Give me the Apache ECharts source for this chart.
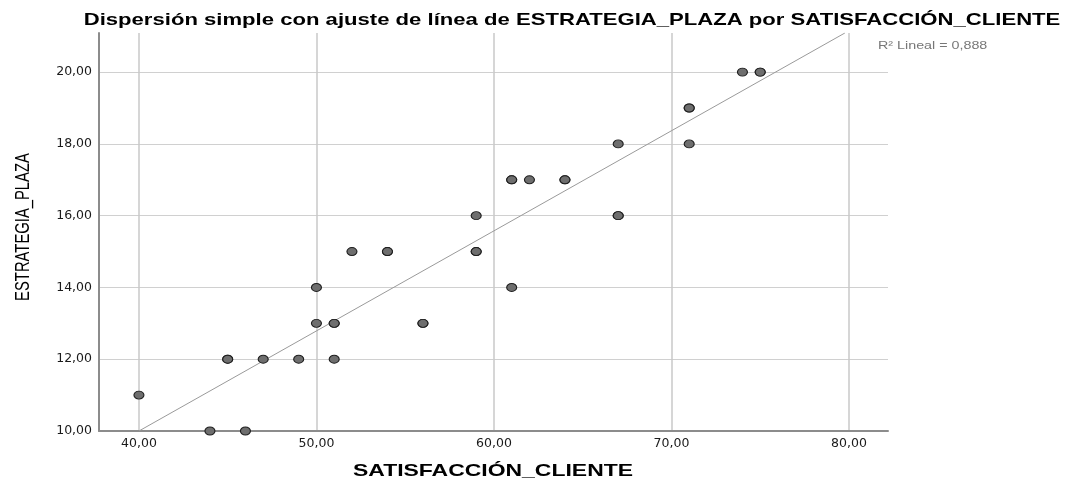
<!DOCTYPE html>
<html>
<head>
<meta charset="utf-8">
<script src="https://cdn.jsdelivr.net/npm/echarts@6/dist/echarts.min.js"></script>
<style>
  html, body { margin: 0; padding: 0; background: #fff; }
  #chart { width: 1091px; height: 478px; }
</style>
</head>
<body>
<div id="chart"></div>
<script>
// Observations: SATISFACCIÓN_CLIENTE (x) vs ESTRATEGIA_PLAZA (y); repeated pairs listed twice
const satisfaccion = [40, 44, 46, 45, 45, 47, 49, 51, 50, 51, 51, 50, 52, 54, 54, 56, 56, 59, 59, 59, 61, 61, 61, 62, 64, 64, 67, 67, 67, 71, 71, 71, 74, 75, 75];
const estrategia   = [11, 10, 10, 12, 12, 12, 12, 12, 13, 13, 13, 14, 15, 15, 15, 13, 13, 15, 15, 16, 14, 17, 17, 17, 17, 17, 16, 16, 18, 18, 19, 19, 20, 20, 20];

// Linear fit endpoints (clipped to the plot area)
const fitX = [40, 79.77];
const fitY = [10, 21.09];

const xTicks = [40, 50, 60, 70, 80];
const yTicks = [10, 12, 14, 16, 18, 20];

const titleText = 'Dispersión simple con ajuste de línea de ESTRATEGIA_PLAZA por SATISFACCIÓN_CLIENTE';
const xName = 'SATISFACCIÓN_CLIENTE';
const yName = 'ESTRATEGIA_PLAZA';
const r2Text = 'R² Lineal = 0,888';

const fmt = v => Number(v).toFixed(2).replace('.', ',');

const points = satisfaccion.map((x, i) => [x, estrategia[i]]);
const fitLine = fitX.map((x, i) => [x, fitY[i]]);

const SANS = 'Liberation Sans';
const tickFont = { fontFamily: 'DejaVu Sans', fontSize: 12.5, color: '#1a1a1a' };

const chart = echarts.init(document.getElementById('chart'));
chart.setOption({
  animation: false,
  backgroundColor: '#ffffff',
  graphic: [
    { // chart title, widened text
      type: 'text', x: 572, y: 20, scaleX: 1.3,
      style: { text: titleText, font: 'bold 17px "Liberation Sans"', fill: '#000', align: 'center', verticalAlign: 'middle' }
    },
    { // fit statistic
      type: 'text', x: 878, y: 46, scaleX: 1.3,
      style: { text: r2Text, font: '11px "Liberation Sans"', fill: '#777', align: 'left', verticalAlign: 'middle' }
    },
    { // x axis title
      type: 'text', x: 493, y: 471, scaleX: 1.35,
      style: { text: xName, font: 'bold 17px "Liberation Sans"', fill: '#000', align: 'center', verticalAlign: 'middle' }
    },
    { // y axis title, rotated and condensed
      type: 'text', x: 23, y: 227, rotation: Math.PI / 2, scaleX: 0.74,
      style: { text: yName, font: '20px "Liberation Sans"', fill: '#000', align: 'center', verticalAlign: 'middle' }
    }
  ],
  grid: { left: 99, top: 33, right: 203, bottom: 47, outerBoundsMode: 'none' },
  xAxis: {
    type: 'value', min: 37.75, max: 82.2,
    axisLine: { show: true, onZero: false, lineStyle: { color: '#8c8c8c', width: 2 } },
    axisTick: { show: false, customValues: xTicks },
    axisLabel: Object.assign({ customValues: xTicks, formatter: fmt, margin: 6 }, tickFont),
    splitLine: { show: true, lineStyle: { color: '#c8c8c8', width: 1.5 } }
  },
  yAxis: {
    type: 'value', min: 10, max: 21.09,
    axisLine: { show: true, onZero: false, lineStyle: { color: '#8c8c8c', width: 2 } },
    axisTick: { show: false, customValues: yTicks },
    axisLabel: Object.assign({ customValues: yTicks, formatter: fmt, margin: 7 }, tickFont),
    splitLine: { show: true, lineStyle: { color: '#d0d0d0', width: 1 } }
  },
  series: [
    {
      type: 'line', data: fitLine, symbol: 'none', silent: true, clip: true,
      lineStyle: { color: '#9a9a9a', width: 1 }, z: 2
    },
    {
      type: 'scatter', data: points, symbol: 'circle', symbolSize: [10, 8],
      itemStyle: { color: '#6e6e6e', borderColor: '#1e1e1e', borderWidth: 1, opacity: 1 }, z: 3
    }
  ]
});
</script>
</body>
</html>
